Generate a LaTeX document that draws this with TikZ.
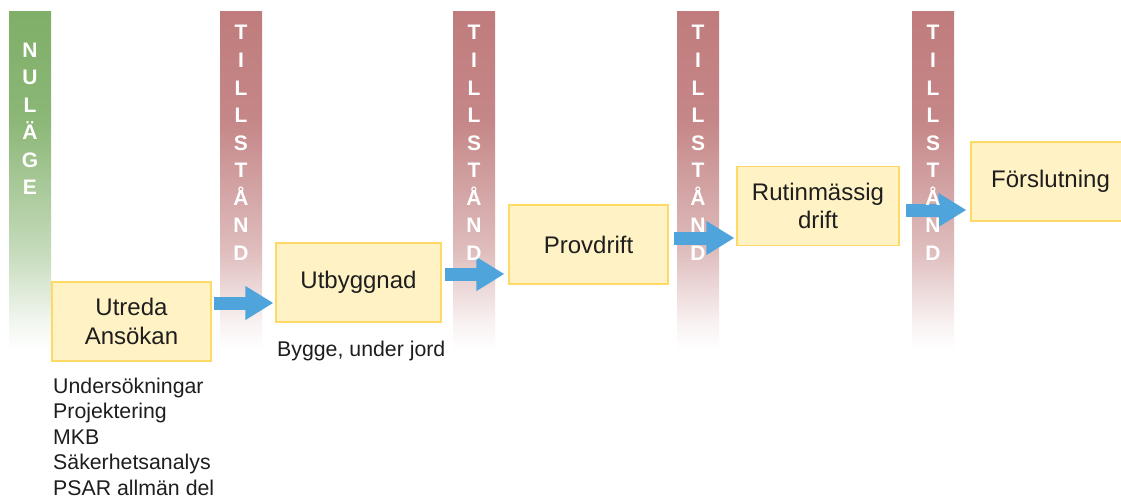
\documentclass[tikz,border=0pt]{standalone}
\usepackage{fontspec}
\setmainfont{Liberation Sans}
\usetikzlibrary{arrows.meta}
\definecolor{greenc}{RGB}{127,175,104}
\definecolor{redc}{RGB}{192,124,125}
\definecolor{boxfill}{RGB}{255,242,196}
\definecolor{boxline}{RGB}{255,217,102}
\definecolor{arrc}{RGB}{79,164,220}
\definecolor{txt}{RGB}{30,30,30}
\colorlet{redA}{redc!10!white}
\colorlet{redB}{redc!50!white}
\colorlet{redC}{redc!92!white}
\colorlet{grnA}{greenc!10!white}
\colorlet{grnB}{greenc!45!white}
\colorlet{grnC}{greenc!90!white}
\pgfdeclareverticalshading{redfade}{100bp}{color(0bp)=(white); color(25bp)=(white); color(29bp)=(redA); color(39.5bp)=(redB); color(59bp)=(redC); color(75bp)=(redc); color(100bp)=(redc)}
\pgfdeclareverticalshading{greenfade}{100bp}{color(0bp)=(white); color(25bp)=(white); color(29bp)=(grnA); color(39.5bp)=(grnB); color(59bp)=(grnC); color(75bp)=(greenc); color(100bp)=(greenc)}
\begin{document}
\begin{tikzpicture}[x=1pt,y=-1pt,
  stage/.style={draw=boxline, fill=boxfill, line width=1.2pt, minimum height=79pt,
    inner sep=0pt, align=center, text=txt, font=\fontsize{24}{28.5}\selectfont},
  arr/.style={draw=arrc, fill=arrc, line width=13pt, -{Triangle[length=28pt,width=32pt]}},
  letter/.style={anchor=base, text=white, inner sep=0pt, font=\fontsize{21}{21}\selectfont\bfseries},
  note/.style={anchor=base west, inner sep=0pt, text=txt, font=\fontsize{21.3}{25}\selectfont}]
\clip (0,0) rectangle (1121,495);
\fill[white] (0,0) rectangle (1121,495);
% bars
\fill[shading=greenfade] (9,12) rectangle (51,350);
\foreach \bx in {241,474,698,933}
  \fill[shading=redfade] (\bx-21,12) rectangle (\bx+21,350);
% stage boxes
\node[stage, minimum width=159pt] (b1) at (131.5,321.5) {Utreda\\Ansökan};
\node[stage, minimum width=165pt] (b2) at (358.5,282.5) {Utbyggnad};
\node[stage, minimum width=159pt] (b3) at (588.5,244.5) {Provdrift};
\node[stage, minimum width=162pt] (b4) at (818,206) {Rutinmässig\\drift};
\node[stage, minimum width=159pt] (b5) at (1050.5,181.5) {Förslutning};
% arrows
\coordinate (y1) at (0,303);
\coordinate (y2) at (0,274);
\coordinate (y3) at (0,238);
\coordinate (y4) at (0,210);
\draw[arr, shorten <=2pt, shorten >=2pt] (b1.east |- y1) -- (b2.west |- y1);
\draw[arr, shorten <=3pt, shorten >=4pt] (b2.east |- y2) -- (b3.west |- y2);
\draw[arr, shorten <=5pt, shorten >=2pt] (b3.east |- y3) -- (b4.west |- y3);
\draw[arr, shorten <=6pt, shorten >=4pt] (b4.east |- y4) -- (b5.west |- y4);
% letters
\foreach \L [count=\i] in {N,U,L,Ä,G,E}
  \node[letter] (g\i) at (30,{50+27.4*(\i-1)+7.5}) {\L};
\foreach \bx/\b in {241/1,474/2,698/3,933/4}{
  \foreach \L [count=\i] in {T,I,L,L,S,T,Å,N,D}
    \node[letter] (t\b-\i) at (\bx,{32.5+27.5*(\i-1)+7.5}) {\L};
}
% notes
\node[note] (n0) at (277,356) {Bygge, under jord};
\foreach \T [count=\i] in {Undersökningar,Projektering,MKB,Säkerhetsanalys,PSAR allmän del}
  \node[note] (l\i) at (53,{393.5+25.4*(\i-1)}) {\T};
\end{tikzpicture}
\end{document}
